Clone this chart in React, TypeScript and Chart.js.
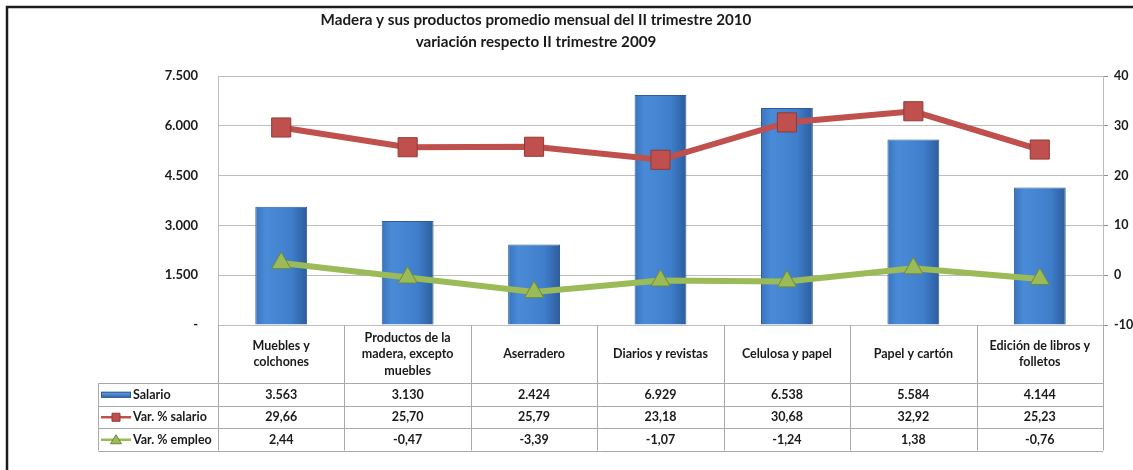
import React, { useEffect, useRef } from 'react';
import { Chart, registerables } from 'chart.js';

Chart.register(...registerables);

const titleLines = [
  'Madera y sus productos promedio mensual del II trimestre 2010',
  'variación respecto II trimestre 2009',
];
const categories: string[][] = [
  ['Muebles y', 'colchones'],
  ['Productos de la', 'madera, excepto', 'muebles'],
  ['Aserradero'],
  ['Diarios y revistas'],
  ['Celulosa y papel'],
  ['Papel y cartón'],
  ['Edición de libros y', 'folletos'],
];
const seriesNames = ['Salario', 'Var. % salario', 'Var. % empleo'];
const salario = [3563, 3130, 2424, 6929, 6538, 5584, 4144];
const varSalario = [29.66, 25.7, 25.79, 23.18, 30.68, 32.92, 25.23];
const varEmpleo = [2.44, -0.47, -3.39, -1.07, -1.24, 1.38, -0.76];
const leftAxis = { min: 0, max: 7500, step: 1500 };
const rightAxis = { min: -10, max: 40, step: 10 };

const FONT = 'Lato, "Open Sans", sans-serif';
const TEXT = '#1a1a1a';
const GRID = '#bdbdbd';
const RED = '#c0504d';
const RED_DARK = '#8f3a37';
const GREEN = '#9bbb59';
const GREEN_DARK = '#6f8a3a';

const fmtThousands = (n: number) => Math.round(n).toString().replace(/\B(?=(\d{3})+(?!\d))/g, '.');
const fmtDec = (n: number) => n.toFixed(2).replace('.', ',');

const tablePlugin = {
  id: 'tablePlugin',
  beforeDraw(chart: any) {
    const ctx = chart.ctx as CanvasRenderingContext2D;
    ctx.save();
    ctx.fillStyle = '#ffffff';
    ctx.fillRect(0, 0, chart.width, chart.height);
    ctx.restore();
  },
  afterDraw(chart: any) {
    const ctx = chart.ctx as CanvasRenderingContext2D;
    const ca = chart.chartArea;
    const xs = chart.scales.x;
    const n = categories.length;
    const colW = (ca.right - ca.left) / n;
    const top = Math.round(ca.bottom);
    const headerH = 58;
    const rowH = 22.5;
    const tableLeft = 98.5;
    const bottom = top + headerH + rowH * 3;

    ctx.save();
    // frame border
    ctx.strokeStyle = '#1c1c1c';
    ctx.lineWidth = 2.5;
    ctx.beginPath();
    ctx.moveTo(7, chart.height + 5);
    ctx.lineTo(7, 7);
    ctx.lineTo(chart.width + 5, 7);
    ctx.stroke();

    // title
    ctx.fillStyle = TEXT;
    ctx.font = `bold 15.2px ${FONT}`;
    ctx.textAlign = 'center';
    ctx.textBaseline = 'middle';
    ctx.fillText(titleLines[0], 536, 20);
    ctx.fillText(titleLines[1], 536, 42);

    // table grid
    ctx.strokeStyle = '#a9a9a9';
    ctx.lineWidth = 1;
    ctx.beginPath();
    for (let r = 0; r <= 3; r++) {
      const y = Math.round(top + headerH + r * rowH) + 0.5;
      ctx.moveTo(tableLeft, y);
      ctx.lineTo(ca.right, y);
    }
    for (let i = 0; i <= n; i++) {
      const x = Math.round(ca.left + i * colW) + 0.5;
      ctx.moveTo(x, top);
      ctx.lineTo(x, bottom);
    }
    ctx.moveTo(tableLeft, top + headerH);
    ctx.lineTo(tableLeft, bottom);
    ctx.stroke();

    // header texts
    ctx.fillStyle = TEXT;
    ctx.font = `bold 12.5px ${FONT}`;
    ctx.textAlign = 'center';
    ctx.textBaseline = 'middle';
    const lh = 16.5;
    categories.forEach((lines, i) => {
      const cx = xs.getPixelForValue(i);
      const cy = top + headerH / 2;
      const start = cy - ((lines.length - 1) * lh) / 2;
      lines.forEach((t, k) => ctx.fillText(t, cx, start + k * lh));
    });

    // values
    const rows = [salario.map(fmtThousands), varSalario.map(fmtDec), varEmpleo.map(fmtDec)];
    rows.forEach((vals, r) => {
      const cy = top + headerH + rowH * (r + 0.5) + 0.5;
      vals.forEach((v, i) => ctx.fillText(v, xs.getPixelForValue(i), cy));
    });

    // row labels with keys
    ctx.textAlign = 'left';
    rows.forEach((_, r) => {
      const cy = top + headerH + rowH * (r + 0.5) + 0.5;
      const kx = 101;
      if (r === 0) {
        const g = ctx.createLinearGradient(0, cy - 3, 0, cy + 3);
        g.addColorStop(0, '#6aa2e6');
        g.addColorStop(1, '#2f64a8');
        ctx.fillStyle = g;
        ctx.fillRect(kx, cy - 3, 30, 6);
        ctx.strokeStyle = '#2e5c94';
        ctx.strokeRect(kx + 0.5, cy - 2.5, 29, 5);
      } else {
        const col = r === 1 ? RED : GREEN;
        const dark = r === 1 ? RED_DARK : GREEN_DARK;
        ctx.strokeStyle = col;
        ctx.lineWidth = 2.5;
        ctx.beginPath();
        ctx.moveTo(kx, cy);
        ctx.lineTo(kx + 30, cy);
        ctx.stroke();
        ctx.lineWidth = 1;
        ctx.fillStyle = col;
        ctx.strokeStyle = dark;
        ctx.beginPath();
        if (r === 1) {
          ctx.rect(kx + 11, cy - 4, 8, 8);
        } else {
          ctx.moveTo(kx + 15, cy - 5);
          ctx.lineTo(kx + 20.5, cy + 4);
          ctx.lineTo(kx + 9.5, cy + 4);
          ctx.closePath();
        }
        ctx.fill();
        ctx.stroke();
      }
      ctx.fillStyle = TEXT;
      ctx.font = `bold 12.5px ${FONT}`;
      ctx.fillText(seriesNames[r], kx + 32, cy);
    });
    ctx.restore();
  },
};

export default function App() {
  const ref = useRef<HTMLCanvasElement | null>(null);
  useEffect(() => {
    document.body.style.margin = '0';
    const canvas = ref.current;
    if (!canvas) return;
    const barColor = (c: any) => {
      const chart = c.chart;
      const xs = chart.scales?.x;
      if (!xs || !chart.chartArea || c.dataIndex === undefined) return '#3f7fcf';
      const cx = xs.getPixelForValue(c.dataIndex);
      const g = chart.ctx.createLinearGradient(cx - 26, 0, cx + 26, 0);
      g.addColorStop(0, '#3a74bd');
      g.addColorStop(0.2, '#4a8bd8');
      g.addColorStop(0.7, '#3f7ecb');
      g.addColorStop(1, '#2c5d9c');
      return g;
    };
    const chart = new Chart(canvas, {
      type: 'bar',
      data: {
        labels: categories.map((c) => c.join(' ')),
        datasets: [
          {
            type: 'line',
            label: seriesNames[1],
            data: varSalario,
            yAxisID: 'y1',
            borderColor: RED,
            borderWidth: 6,
            pointStyle: 'rect',
            pointRadius: 13.5,
            pointBackgroundColor: RED,
            pointBorderColor: RED_DARK,
            pointBorderWidth: 1,
            tension: 0,
            order: 1,
          },
          {
            type: 'line',
            label: seriesNames[2],
            data: varEmpleo,
            yAxisID: 'y1',
            borderColor: GREEN,
            borderWidth: 6,
            pointStyle: 'triangle',
            pointRadius: 11,
            pointBackgroundColor: GREEN,
            pointBorderColor: GREEN_DARK,
            pointBorderWidth: 1,
            tension: 0,
            order: 2,
          },
          {
            type: 'bar',
            label: seriesNames[0],
            data: salario,
            yAxisID: 'y',
            backgroundColor: barColor,
            borderColor: '#2e5c94',
            borderWidth: 1,
            categoryPercentage: 1,
            barPercentage: 0.41,
            order: 3,
          },
        ],
      } as any,
      options: {
        responsive: false,
        animation: false,
        devicePixelRatio: 1,
        layout: { padding: { top: 76, bottom: 145, left: 0, right: 0 } },
        plugins: {
          legend: { display: false },
          title: { display: false },
          tooltip: { enabled: false },
        },
        scales: {
          x: { type: 'category', display: false, offset: true },
          y: {
            position: 'left',
            min: leftAxis.min,
            max: leftAxis.max,
            ticks: {
              stepSize: leftAxis.step,
              padding: 20,
              color: TEXT,
              font: { family: FONT, size: 13, weight: 'bold' },
              callback: (v: any) => (Number(v) === 0 ? '-' : fmtThousands(Number(v))),
            },
            grid: { color: GRID, drawTicks: false },
            border: { display: true, color: GRID },
            afterFit: (s: any) => {
              s.width = 218;
            },
          },
          y1: {
            position: 'right',
            min: rightAxis.min,
            max: rightAxis.max,
            ticks: {
              stepSize: rightAxis.step,
              padding: 6,
              color: TEXT,
              font: { family: FONT, size: 12.5, weight: 'bold' },
            },
            grid: { drawOnChartArea: false, drawTicks: true, tickLength: 5, color: '#8c8c8c' },
            border: { display: true, color: GRID },
            afterFit: (s: any) => {
              s.width = 30;
            },
          },
        },
      } as any,
      plugins: [tablePlugin],
    });
    return () => chart.destroy();
  }, []);
  return (
    <div style={{ width: 1133, height: 470, background: '#fff' }}>
      <canvas ref={ref} width={1133} height={470} style={{ display: 'block' }} />
    </div>
  );
}
